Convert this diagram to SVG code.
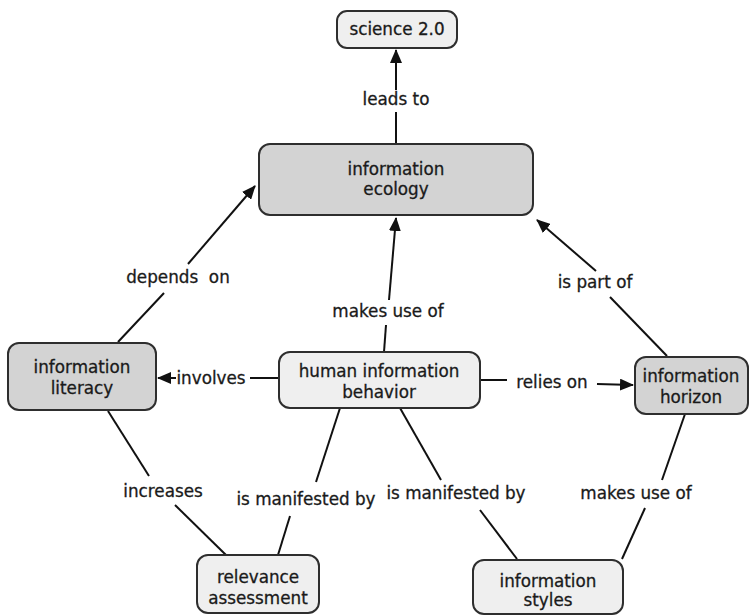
<svg xmlns="http://www.w3.org/2000/svg" width="751" height="616" viewBox="0 0 751 616">
<defs>
<marker id="arr" viewBox="0 0 14 12" refX="13" refY="6" markerWidth="14" markerHeight="12" markerUnits="userSpaceOnUse" orient="auto">
<path d="M0,0 L14,6 L0,12 Z" fill="#111"/>
</marker>
<style>
text{font-family:"DejaVu Sans","Liberation Sans",sans-serif;font-size:16.8px;fill:#1a1a1a;stroke:#1a1a1a;stroke-width:0.3;text-anchor:middle}
.box{stroke:#2e2e2e;stroke-width:2}
.dark{fill:#d3d3d3}
.light{fill:#efefef}
.c line{stroke:#111;stroke-width:2}
.c line.a{marker-end:url(#arr)}
</style>
</defs>
<rect width="751" height="616" fill="#fff"/>
<g id="connectors" class="c">
<line x1="396" y1="143" x2="396" y2="112"/>
<line class="a" x1="396" y1="90" x2="396" y2="50"/>
<text x="396" y="105">leads to</text>
<line x1="118" y1="342" x2="164" y2="293"/>
<line class="a" x1="188" y1="264" x2="255" y2="186"/>
<text x="178" y="283" xml:space="preserve">depends  on</text>
<line x1="384" y1="352" x2="386" y2="325"/>
<line class="a" x1="389" y1="300" x2="396" y2="218"/>
<text x="388" y="317">makes use of</text>
<line x1="667" y1="356" x2="610" y2="297"/>
<line class="a" x1="596" y1="271" x2="537" y2="220"/>
<text x="595" y="288">is part of</text>
<line x1="279" y1="378" x2="250" y2="378"/>
<line class="a" x1="176" y1="378" x2="158" y2="378"/>
<text x="211" y="384">involves</text>
<line x1="480" y1="380" x2="507" y2="380"/>
<line class="a" x1="597" y1="384" x2="633" y2="385"/>
<text x="552" y="388">relies on</text>
<line x1="108" y1="411" x2="149" y2="476"/>
<line x1="175" y1="505" x2="226" y2="555"/>
<text x="163" y="497">increases</text>
<line x1="340" y1="408" x2="316" y2="482"/>
<line x1="290" y1="516" x2="278" y2="555"/>
<text x="306" y="505">is manifested by</text>
<line x1="400" y1="408" x2="441" y2="480"/>
<line x1="480" y1="510" x2="517" y2="559"/>
<text x="456" y="499">is manifested by</text>
<line x1="685" y1="414" x2="662" y2="480"/>
<line x1="645" y1="508" x2="622" y2="559"/>
<text x="636" y="499">makes use of</text>
</g>
<g id="science20">
<rect class="box light" x="337" y="11" width="120" height="37" rx="10"/>
<text x="397" y="35">science 2.0</text>
</g>
<g id="informationEcology">
<rect class="box dark" x="259" y="144" width="274" height="71" rx="11"/>
<text x="396" y="175">information</text>
<text x="396" y="195">ecology</text>
</g>
<g id="informationLiteracy">
<rect class="box dark" x="8" y="343" width="148" height="67" rx="11"/>
<text x="82" y="373">information</text>
<text x="82" y="394">literacy</text>
</g>
<g id="humanInformationBehavior">
<rect class="box light" x="279" y="352" width="201" height="56" rx="11"/>
<text x="379" y="377">human information</text>
<text x="379" y="398">behavior</text>
</g>
<g id="informationHorizon">
<rect class="box dark" x="635" y="357" width="113" height="57" rx="11"/>
<text x="691" y="382">information</text>
<text x="691" y="403">horizon</text>
</g>
<g id="relevanceAssessment">
<rect class="box light" x="197" y="555" width="122" height="58" rx="11"/>
<text x="258" y="583">relevance</text>
<text x="258" y="604">assessment</text>
</g>
<g id="informationStyles">
<rect class="box light" x="473" y="560" width="150" height="54" rx="11"/>
<text x="548" y="587">information</text>
<text x="548" y="606">styles</text>
</g>
</svg>
